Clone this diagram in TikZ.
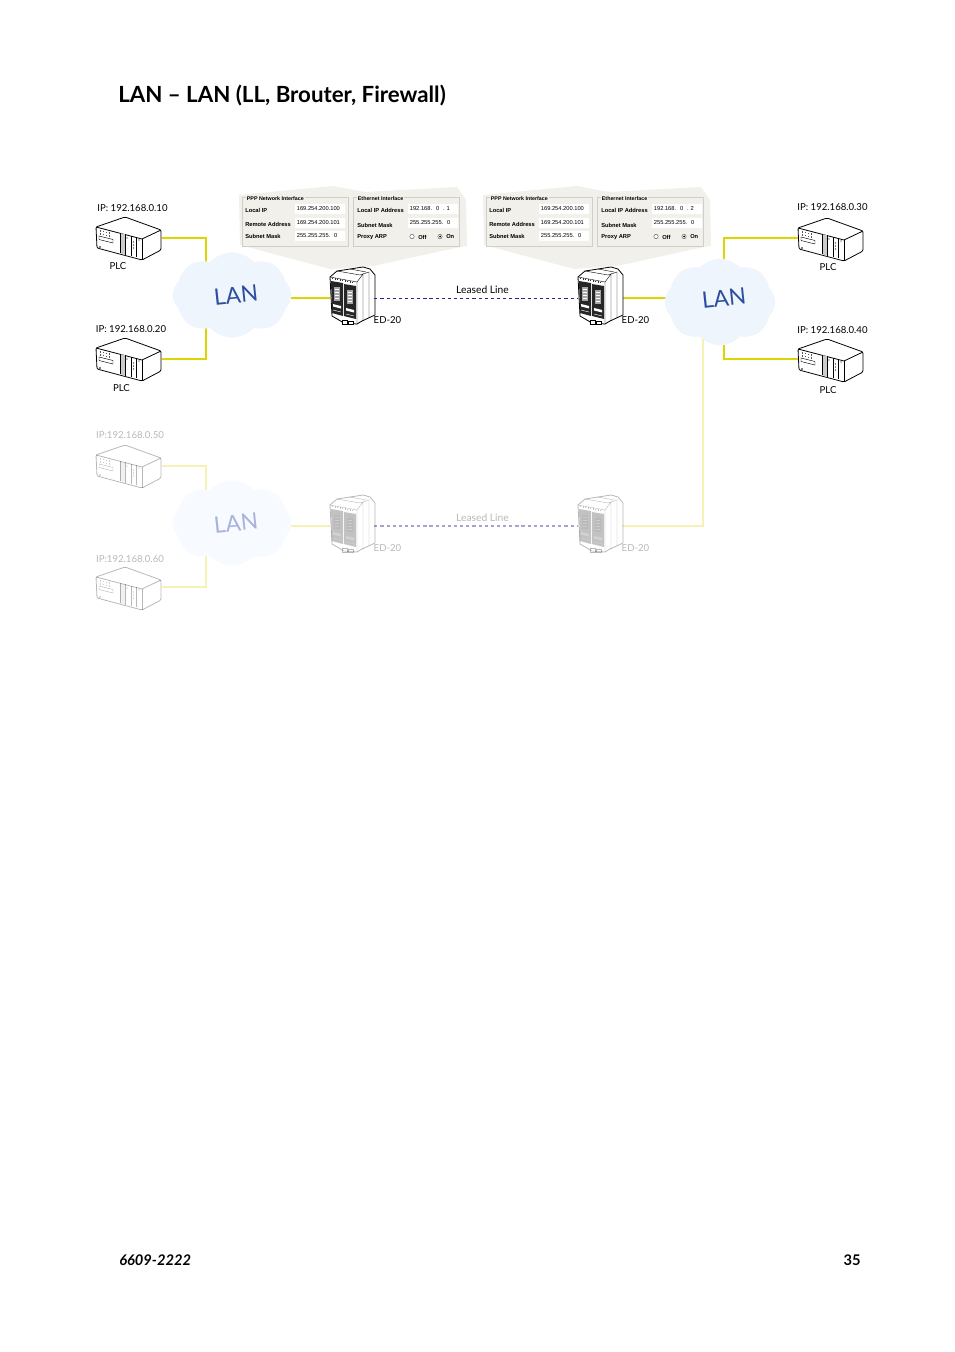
\documentclass[tikz,border=0pt]{standalone}
\usepackage{fontspec}
\setmainfont{Lato}
\newfontfamily\panelfont{Liberation Sans}
\usetikzlibrary{shapes,shapes.symbols,positioning,backgrounds,calc}

\definecolor{linkyellow}{HTML}{DDD500}
\definecolor{fadeyellow}{HTML}{F6F1B4}
\definecolor{lanfill}{HTML}{EEF5FC}
\definecolor{lanfade}{HTML}{F7FAFE}
\definecolor{laninkc}{HTML}{2B4F9E}
\definecolor{laninkf}{HTML}{A9B2DE}
\definecolor{lineviolet}{HTML}{3B1C8C}
\definecolor{panelback}{HTML}{F2F0EA}
\definecolor{framegray}{HTML}{CFCFC8}

% PLC drawing, #1 = name, #2 = top left corner
\newcommand{\plcbox}[2]{
  \node [plcnode] (#1) at ($(#2)+(33,21)$) {};
  \begin{scope}[shift={(#2)}]
    \draw [icon, fill=white, rounded corners=1pt] (0,10) -- (29,0) -- (65,13) -- (65,33) -- (46,43) -- (1,31) -- cycle;
    \draw [icon] (0,10) -- (46,22) -- (65,13);
    \draw [icon] (46,22) -- (46,43);
    \fill [black!20] (24,16) -- (29,17.3) -- (29,37.6) -- (24,36.3) -- cycle;
    \draw [thin part] (24,16) -- (24,36.3) (29,17.3) -- (29,37.6) (35,19) -- (35,39) (40,20) -- (40,40);
    \foreach \bx in {4,7,10,13}
      \foreach \by in {0,3}
        \fill [black!65] (\bx,12.5+\by+\bx*.2) rectangle ++(1.4,1.4);
    \draw [thin part] (3,19) -- (17,22.5) -- (17,26) -- (3,22.5) -- cycle;
    \fill (4,30) circle (.8);
    \foreach \by in {25,28,31}
      \fill (37.5,\by) circle (.6);
    \fill (31,21) circle (.6) (43,23) circle (.6);
  \end{scope}
}

% ED-20 drawing, #1 = name, #2 = top left corner
\newcommand{\edbox}[2]{
  \node [ednode] (#1) at ($(#2)+(22,30)$) {};
  \begin{scope}[shift={(#2)}]
    \draw [icon, fill=white] (0,11) -- (7,5) -- (33,1) -- (40,3) -- (45,9) -- (45,49) -- (32,55) -- (27,58) -- (14,57) -- (2,50) -- cycle;
    \draw [thin part] (0,11) -- (27,16) -- (27,58);
    \draw [thin part] (27,16) -- (33,8) -- (33,55) (33,8) -- (39,6) -- (39,52);
    \draw [thin part] (7,5) -- (30,9) -- (33,8) (20,3) -- (36,6);
    \foreach \bx in {2,4.5,7,9.5,12,14.5,17,19.5,22}
      \fill [black!80] (\bx,11.5+\bx*.2) rectangle ++(1.2,1.5);
    \fill [black!85] (1,15) -- (13,17) -- (13,50) -- (2,47) -- cycle;
    \fill [black!85] (14,18) -- (26,20) -- (26,53) -- (14,50) -- cycle;
    \foreach \cx/\cy in {3.5/21,16.5/24}{
      \fill [black!35] (\cx,\cy) rectangle ++(6.5,14);
      \foreach \dy in {2,5,8,11}
        \fill [white] (\cx+1.5,\cy+\dy) rectangle ++(3.5,1);
    }
    \fill [white] (3,38) -- (11,40) -- (11,42.5) -- (3,40.5) -- cycle (16,42) -- (24,44) -- (24,46.5) -- (16,44.5) -- cycle;
    \draw [white, line width=.35pt] (3,44) -- (11,46) (16,48) -- (24,50);
    \draw [thin part, fill=white] (12,54) rectangle (17,58) (18,55) rectangle (23,58);
  \end{scope}
}

% dialog panel, #1 = prefix, #2 = x shift, #3 = last digit
\newcommand{\cfgpanel}[3]{
  \begin{scope}[xshift=#2*0.75pt]
    \fill [panelback] (239,195) -- (333,186) -- (365,192) -- (457,187) -- (466,200) -- (467,246) -- (460,247) -- (373,266) -- (330,269) -- (240,245) -- cycle;
    \draw [framegray, line width=.5pt] (242,197) rectangle (348,246);
    \draw [framegray, line width=.5pt] (353,197) rectangle (459,246);
    \node [fieldhead] (#1ppp) at (246,198.5) {PPP Network Interface};
    \node [fieldhead] (#1eth) at (357,198.5) {Ethernet Interface};
    \node [fieldname] at (245,210.5) {Local IP};
    \node [fieldname] at (245,224) {Remote Address};
    \node [fieldname] at (245,236.5) {Subnet Mask};
    \node [fieldname] at (357,210.5) {Local IP Address};
    \node [fieldname] at (357,225) {Subnet Mask};
    \node [fieldname] at (357,237) {Proxy ARP};
    \node [fieldbox] at (295,209) {169.254.200.100};
    \node [fieldbox] at (295,223) {169.254.200.101};
    \node [fieldbox] at (295,235.5) {255.255.255.\ \ 0};
    \node [fieldbox] at (408,209) {192.168.\ \ 0\ \ .\ #3};
    \node [fieldbox] at (408,222.5) {255.255.255.\ \ 0};
    \draw [black!70, line width=.3pt, fill=white] (412,236.5) circle (2.2);
    \node [fieldname] at (418,237) {Off};
    \draw [black!70, line width=.3pt, fill=white] (440,236.5) circle (2.2);
    \fill (440,236.5) circle (1);
    \node [fieldname] at (446,237) {On};
  \end{scope}
}

\begin{document}
\begin{tikzpicture}[x=0.75pt, y=-0.75pt]

    \tikzstyle{plcnode} = [rectangle, minimum width=49.5pt, minimum height=31.5pt, inner sep=0pt]
    \tikzstyle{ednode} = [rectangle, minimum width=33pt, minimum height=43pt, inner sep=0pt]
    \tikzstyle{icon} = [draw=black, line width=.6pt, line join=round]
    \tikzstyle{thin part} = [draw=black, line width=.3pt]
    \tikzstyle{tag} = [font=\fontsize{7.2pt}{9pt}\selectfont, inner sep=0pt]
    \tikzstyle{lltag} = [font=\fontsize{7.7pt}{9pt}\selectfont, inner sep=0pt]
    \tikzstyle{lancloud} = [cloud, cloud puffs=8, cloud puff arc=95, aspect=1.4, fill=lanfill, inner sep=0pt]
    \tikzstyle{lantext} = [font=\fontsize{17pt}{18pt}\selectfont, text=laninkc, rotate=6, inner sep=0pt]
    \tikzstyle{link} = [draw=linkyellow, line width=1.3pt]
    \tikzstyle{fadelink} = [draw=fadeyellow, line width=1.1pt]
    \tikzstyle{leased} = [draw=lineviolet, line width=.75pt, dash pattern=on 2.4pt off 2.2pt]
    \tikzstyle{fieldhead} = [anchor=west, inner sep=.5pt, fill=panelback, font=\panelfont\bfseries\fontsize{4pt}{5pt}\selectfont]
    \tikzstyle{fieldname} = [anchor=west, inner sep=0pt, font=\panelfont\bfseries\fontsize{4.3pt}{5pt}\selectfont]
    \tikzstyle{fieldbox} = [anchor=west, fill=white, text width=35pt, minimum height=7.5pt, inner xsep=1.2pt, inner ysep=0pt, align=left, font=\panelfont\fontsize{4.3pt}{5pt}\selectfont]
    \tikzstyle{faded} = [opacity=.28]

    \path [use as bounding box] (0,0) rectangle (954,1352);

    \node [anchor=base west, inner sep=0pt, font=\bfseries\fontsize{16.7pt}{18pt}\selectfont] (title) at (118,102.5) {LAN – LAN (LL, Brouter, Firewall)};
    \node [anchor=base west, inner sep=0pt, font=\bfseries\itshape\fontsize{11pt}{13pt}\selectfont] (docno) at (119,1265) {6609-2222};
    \node [anchor=base east, inner sep=0pt, font=\bfseries\fontsize{11pt}{13pt}\selectfont] (pageno) at (861,1265) {35};

    \cfgpanel{pa}{0}{1}
    \cfgpanel{pb}{244}{2}

    \node [lancloud, minimum width=89pt, minimum height=64pt] (lanA) at (232,295) {};
    \node [lancloud, minimum width=83pt, minimum height=65pt] (lanB) at (720,302) {};
    \node [lancloud, fill=lanfade, minimum width=89pt, minimum height=64pt] (lanC) at (232,523) {};

    \coordinate (tapA) at (206,295);
    \coordinate (tapB) at (724,300);
    \coordinate (tapC) at (206,523);
    \coordinate (tapD) at (703,300);

    \node [lantext] (lanAtxt) at (236,295) {LAN};
    \node [lantext] (lanBtxt) at (724,298) {LAN};
    \node [lantext, text=laninkf] (lanCtxt) at (236,523) {LAN};

    \plcbox{plcA}{96,217}
    \plcbox{plcB}{96,338}
    \plcbox{plcC}{798,218}
    \plcbox{plcD}{798,339}
    \edbox{edA}{330,266}
    \edbox{edB}{578,266}
    \begin{scope}[faded]
    \plcbox{plcE}{96,445}
    \plcbox{plcF}{96,567}
    \edbox{edC}{330,494}
    \edbox{edD}{578,494}
    \end{scope}

    \node [tag] at (132.5,208) {IP: 192.168.0.10};
    \node [tag] at (118,266) {PLC};
    \node [tag] at (131,329) {IP: 192.168.0.20};
    \node [tag] at (121.5,388.5) {PLC};
    \node [tag] at (832.5,207) {IP: 192.168.0.30};
    \node [tag] at (828,267) {PLC};
    \node [tag] at (832.5,330) {IP: 192.168.0.40};
    \node [tag] at (828,390) {PLC};
    \node [tag] at (387.5,320) {ED-20};
    \node [tag] at (635.5,320) {ED-20};
    \node [lltag] (llA) at (482.5,290) {Leased Line};
    \begin{scope}[faded]
    \node [tag] at (130,435) {IP:192.168.0.50};
    \node [tag] at (130,559.5) {IP:192.168.0.60};
    \node [tag] at (387.5,548) {ED-20};
    \node [tag] at (635.5,548) {ED-20};
    \node [lltag] (llB) at (482.5,518) {Leased Line};
    \end{scope}

    \begin{pgfonlayer}{background}
    \draw [link] (plcA.east |- 0,238) -| (tapA);
    \draw [link] (plcB.east |- 0,359) -| (tapA);
    \draw [link] (lanA |- 0,298) -- (edA.west |- 0,298);
    \draw [link] (edB.east |- 0,298) -- (lanB |- 0,298);
    \draw [link, line width=1.6pt] (plcC.west |- 0,238) -| (tapB);
    \draw [link, line width=1.6pt] (plcD.west |- 0,359) -| (tapB);
    \draw [fadelink] (plcE.east |- 0,466) -| (tapC);
    \draw [fadelink] (plcF.east |- 0,587) -| (tapC);
    \draw [fadelink] (lanC |- 0,526) -- (edC.west |- 0,526);
    \draw [fadelink, line width=.8pt] (edD.east |- 0,526) -| (tapD);
    \end{pgfonlayer}

    \draw [leased] (edA.east |- 0,298) -- (edB.west |- 0,298);
    \draw [leased, opacity=.42, line width=.9pt] (edC.east |- 0,526) -- (edD.west |- 0,526);

\end{tikzpicture}
\end{document}
